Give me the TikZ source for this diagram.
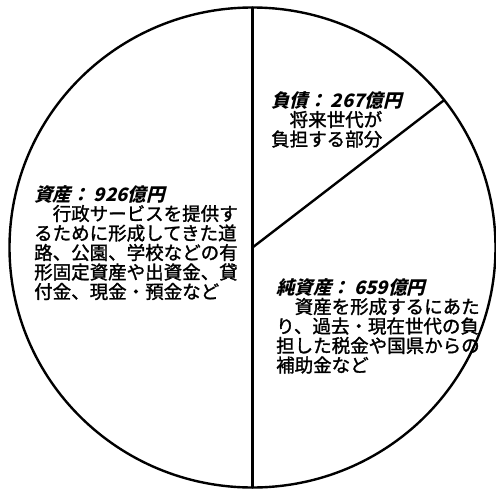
\documentclass[tikz,border=0pt]{standalone}
\usepackage{fontspec}
\newfontfamily\jpfont[FakeBold=1.5]{Noto Sans CJK JP}
\newfontfamily\jphead[FakeSlant=0.25]{Noto Sans CJK JP}
\begin{document}
\begin{tikzpicture}[x=1pt,y=-1pt,line width=2.4pt,line join=round,line cap=round,
  parttext/.style={inner sep=0pt,anchor=north west,align=left,font=\jpfont\fontsize{18.5}{19.5}\selectfont}]
\useasboundingbox (0,0) rectangle (496,490);
\coordinate (c) at (252.5,247.5);
\coordinate (t) at (252.5,7.5);
\coordinate (b) at (252.5,487.5);
\coordinate (e) at (443,101);
\draw (c) ellipse (243 and 240);
\draw (t) -- (b);
\draw (c) -- (e);
\node[parttext] (asset) at (33,184) {{\jphead\bfseries 資産： 926億円}\\
  　行政サービスを提供す\\るために形成してきた道\\路、公園、学校などの有\\形固定資産や出資金、貸\\付金、現金・預金など};
\node[parttext] (debt) at (270,90) {{\jphead\bfseries 負債： 267億円}\\
  　将来世代が\\負担する部分};
\node[parttext] (net) at (275,277) {{\jphead\bfseries 純資産： 659億円}\\
  　資産を形成するにあた\\り、過去・現在世代の負\\担した税金や国県からの\\補助金など};
\end{tikzpicture}
\end{document}
